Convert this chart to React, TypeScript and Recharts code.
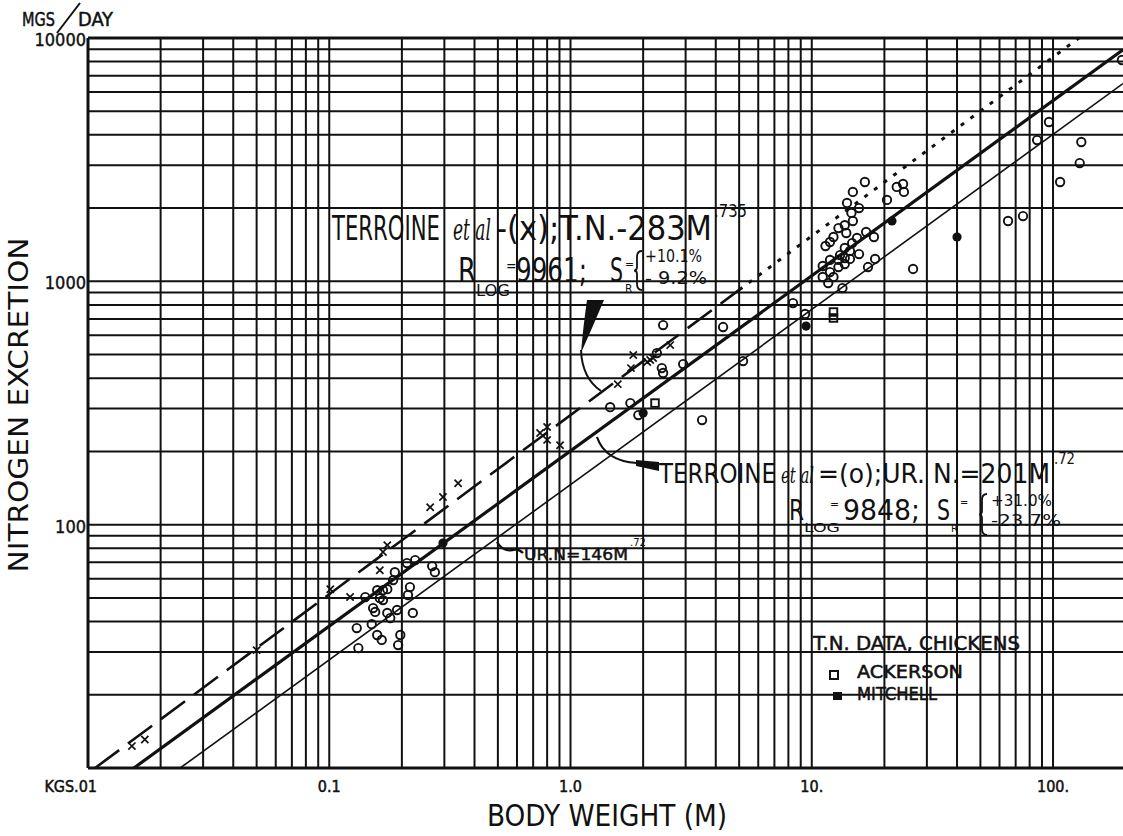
import React from 'react';
import { ScatterChart, Scatter, XAxis, YAxis, ReferenceLine } from 'recharts';

const FONT = '"DejaVu Sans Condensed", "DejaVu Sans", sans-serif';
const INK = '#111';

const xTicks = [0.01, 0.1, 1, 10, 100];
const xTickLabels = ['KGS.01', '0.1', '1.0', '10.', '100.'];
const yTicks = [10, 100, 1000, 10000];
const yTickLabels = ['', '100', '1000', '10000'];

// log paper rulings
const gridX = [0.02, 0.03, 0.04, 0.05, 0.06, 0.07, 0.08, 0.09, 0.1, 0.2, 0.3, 0.4, 0.5, 0.6, 0.7, 0.8, 0.9, 1, 2, 3, 4, 5, 6, 7, 8, 9, 10, 20, 30, 40, 50, 60, 70, 80, 90, 100];
const gridY = [20, 30, 40, 50, 60, 70, 80, 90, 100, 200, 300, 400, 500, 600, 700, 800, 900, 1000, 2000, 3000, 4000, 5000, 6000, 7000, 8000, 9000, 10000];

// Terroine et al. total nitrogen (x)
const terroineTN = [
  { x: 0.0152, y: 12.3 }, { x: 0.0172, y: 13.1 }, { x: 0.05, y: 30.5 }, { x: 0.101, y: 54.3 },
  { x: 0.122, y: 50.4 }, { x: 0.162, y: 65.0 }, { x: 0.167, y: 77.2 }, { x: 0.174, y: 82.4 },
  { x: 0.262, y: 118 }, { x: 0.296, y: 130 }, { x: 0.342, y: 148 }, { x: 0.748, y: 238 },
  { x: 0.8, y: 252 }, { x: 0.8, y: 223 }, { x: 0.905, y: 212 }, { x: 1.57, y: 378 },
  { x: 1.78, y: 440 }, { x: 1.82, y: 498 }, { x: 2.08, y: 466 }, { x: 2.14, y: 475 },
  { x: 2.2, y: 484 }, { x: 2.59, y: 547 },
];

// Terroine et al. urinary nitrogen (o)
const terroineUR = [
  { x: 0.21, y: 69.5 }, { x: 0.227, y: 71.5 }, { x: 0.267, y: 67.6 }, { x: 0.274, y: 63.8 },
  { x: 0.187, y: 63.8 }, { x: 0.184, y: 59.2 }, { x: 0.158, y: 53.8 }, { x: 0.167, y: 53.8 },
  { x: 0.174, y: 54.3 }, { x: 0.141, y: 50.4 }, { x: 0.162, y: 49.9 }, { x: 0.167, y: 49.0 },
  { x: 0.216, y: 55.4 }, { x: 0.212, y: 51.4 }, { x: 0.152, y: 45.4 }, { x: 0.155, y: 43.8 },
  { x: 0.174, y: 43.4 }, { x: 0.179, y: 41.3 }, { x: 0.191, y: 44.6 }, { x: 0.222, y: 43.4 },
  { x: 0.13, y: 37.6 }, { x: 0.15, y: 39.0 }, { x: 0.158, y: 35.2 }, { x: 0.165, y: 33.6 },
  { x: 0.197, y: 35.2 }, { x: 0.193, y: 32.0 }, { x: 0.132, y: 31.1 },
  { x: 2.42, y: 661 }, { x: 2.28, y: 507 }, { x: 2.39, y: 440 }, { x: 2.42, y: 420 },
  { x: 2.93, y: 457 }, { x: 4.29, y: 649 }, { x: 1.46, y: 304 }, { x: 1.77, y: 316 },
  { x: 1.91, y: 282 }, { x: 3.51, y: 269 }, { x: 5.19, y: 470 }, { x: 8.36, y: 814 },
  { x: 9.38, y: 734 },
  { x: 16.6, y: 2560 }, { x: 14.8, y: 2330 }, { x: 14.0, y: 2100 }, { x: 15.7, y: 2000 },
  { x: 14.6, y: 1910 }, { x: 14.8, y: 1770 }, { x: 13.7, y: 1700 }, { x: 12.9, y: 1656 },
  { x: 13.9, y: 1580 }, { x: 12.3, y: 1521 }, { x: 11.9, y: 1451 }, { x: 11.4, y: 1397 },
  { x: 16.8, y: 1595 }, { x: 18.1, y: 1521 }, { x: 15.4, y: 1507 }, { x: 14.7, y: 1436 },
  { x: 13.7, y: 1371 }, { x: 14.4, y: 1333 }, { x: 13.1, y: 1282 }, { x: 15.7, y: 1294 },
  { x: 13.7, y: 1247 }, { x: 12.9, y: 1224 }, { x: 11.9, y: 1224 }, { x: 14.4, y: 1236 },
  { x: 11.1, y: 1156 }, { x: 12.9, y: 1145 }, { x: 13.7, y: 1178 }, { x: 11.9, y: 1092 },
  { x: 11.1, y: 1042 }, { x: 12.3, y: 1042 }, { x: 11.7, y: 984 }, { x: 13.4, y: 938 },
  { x: 17.1, y: 1145 }, { x: 18.3, y: 1236 }, { x: 20.5, y: 2160 }, { x: 22.5, y: 2443 },
  { x: 23.9, y: 2512 }, { x: 24.1, y: 2330 }, { x: 26.3, y: 1124 }, { x: 65.1, y: 1770 },
  { x: 75.1, y: 1855 }, { x: 107, y: 2560 }, { x: 129, y: 3063 }, { x: 131, y: 3738 },
  { x: 96.2, y: 4517 }, { x: 85.9, y: 3808 }, { x: 193, y: 8120 },
];

// chickens, total nitrogen
const ackerson = [{ x: 2.24, y: 316 }, { x: 12.3, y: 748 }, { x: 12.3, y: 707 }];
const mitchell = [{ x: 0.296, y: 84 }, { x: 2.0, y: 288 }, { x: 9.47, y: 655 }, { x: 21.5, y: 1770 }, { x: 40.0, y: 1521 }];

// fitted lines, end points
const lineTNdashed = [{ x: 0.0107, y: 10 }, { x: 5, y: 922 }];
const lineTNdotted = [{ x: 5, y: 922 }, { x: 128, y: 10000 }];
const lineUR201 = [{ x: 0.0155, y: 10 }, { x: 195, y: 8950 }];
const lineUR146 = [{ x: 0.0241, y: 10 }, { x: 195, y: 6500 }];

const noDot = () => <g />;
const OpenCircle = (p: any) => <circle cx={p.cx} cy={p.cy} r={4.2} fill="none" stroke={INK} strokeWidth={1.9} />;
const FilledDot = (p: any) => <circle cx={p.cx} cy={p.cy} r={4.6} fill={INK} />;
const OpenSquare = (p: any) => <rect x={p.cx - 3.8} y={p.cy - 3.8} width={7.6} height={7.6} fill="none" stroke={INK} strokeWidth={1.9} />;
const Cross = (p: any) => {
  const s = 3.6;
  return <path d={`M${p.cx - s},${p.cy - s}L${p.cx + s},${p.cy + s}M${p.cx - s},${p.cy + s}L${p.cx + s},${p.cy - s}`} stroke={INK} strokeWidth={1.7} />;
};

const XTick = (p: any) => {
  const i = xTicks.indexOf(p.payload.value);
  const first = i === 0;
  return (
    <text x={first ? p.x + 9 : p.x} y={p.y + 16} textAnchor={first ? 'end' : 'middle'} fontFamily={FONT} fontSize={16} fill={INK} stroke={INK} strokeWidth={0.5}>
      {xTickLabels[i]}
    </text>
  );
};

const YTick = (p: any) => {
  const i = yTicks.indexOf(p.payload.value);
  return (
    <text x={p.x + 6} y={p.y + 8} textAnchor="end" fontFamily={FONT} fontSize={18} fill={INK} stroke={INK} strokeWidth={0.4}>
      {yTickLabels[i]}
    </text>
  );
};

const Brace = ({ x, y1, y2 }: { x: number; y1: number; y2: number }) => {
  const m = (y1 + y2) / 2;
  return (
    <path
      d={`M${x + 8},${y1} Q${x + 3},${y1} ${x + 3},${y1 + 6} L${x + 3},${m - 4} Q${x + 3},${m} ${x},${m} Q${x + 3},${m} ${x + 3},${m + 4} L${x + 3},${y2 - 6} Q${x + 3},${y2} ${x + 8},${y2}`}
      fill="none"
      stroke={INK}
      strokeWidth={1.8}
    />
  );
};

const Notes = () => (
  <svg width={1123} height={836} style={{ position: 'absolute', left: 0, top: 0, pointerEvents: 'none' }} fontFamily={FONT} fill={INK}>
    {/* unit */}
    <g stroke={INK} strokeWidth={0.5}>
      <text x={22} y={26} fontSize={20} textLength={33} lengthAdjust="spacingAndGlyphs">MGS</text>
      <text x={78} y={26} fontSize={20} textLength={35} lengthAdjust="spacingAndGlyphs">DAY</text>
    </g>
    <line x1={57} y1={33} x2={80} y2={3} stroke={INK} strokeWidth={2} />

    {/* axis titles */}
    <text transform="rotate(-90)" x={-405} y={28} textAnchor="middle" fontSize={27} textLength={335} lengthAdjust="spacingAndGlyphs">NITROGEN EXCRETION</text>
    <text x={487} y={826} fontSize={30} textLength={240} lengthAdjust="spacingAndGlyphs">BODY  WEIGHT (M)</text>

    {/* total nitrogen fit */}
    <text x={332} y={240} fontSize={34} textLength={108} lengthAdjust="spacingAndGlyphs">TERROINE</text>
    <text x={453} y={240} fontSize={30} fontStyle="italic" fontFamily="DejaVu Serif, serif" textLength={38} lengthAdjust="spacingAndGlyphs">et al</text>
    <text x={496} y={240} fontSize={34} textLength={216} lengthAdjust="spacingAndGlyphs">-(x);T.N.-283M</text>
    <text x={714} y={217} fontSize={17} textLength={33} lengthAdjust="spacingAndGlyphs">.735</text>
    <text x={458} y={282} fontSize={34} textLength={18} lengthAdjust="spacingAndGlyphs">R</text>
    <text x={476} y={296} fontSize={16} textLength={34} lengthAdjust="spacingAndGlyphs">LOG</text>
    <text x={506} y={271} fontSize={14}>=</text>
    <text x={516} y={282} fontSize={34} textLength={71} lengthAdjust="spacingAndGlyphs">9961;</text>
    <text x={610} y={282} fontSize={34} textLength={13} lengthAdjust="spacingAndGlyphs">S</text>
    <text x={625} y={293} fontSize={12}>R</text>
    <text x={625} y={268} fontSize={12}>=</text>
    <Brace x={634} y1={251} y2={290} />
    <text x={645} y={262} fontSize={17} textLength={57} lengthAdjust="spacingAndGlyphs">+10.1%</text>
    <text x={645} y={284} fontSize={17} textLength={62} lengthAdjust="spacingAndGlyphs">- 9.2%</text>
    <path d="M587,300 L604,300 Q593,326 581,353 Q583,328 587,300 Z" />
    <path d="M581,350 Q582,378 601,391" fill="none" stroke={INK} strokeWidth={2} />

    {/* urinary nitrogen fit */}
    <text x={659} y={483} fontSize={26} textLength={117} lengthAdjust="spacingAndGlyphs">TERROINE</text>
    <text x={781} y={483} fontSize={23} fontStyle="italic" fontFamily="DejaVu Serif, serif" textLength={33} lengthAdjust="spacingAndGlyphs">et al</text>
    <text x={818} y={483} fontSize={26} textLength={232} lengthAdjust="spacingAndGlyphs">=(o);UR. N.=201M</text>
    <text x={1054} y={464} fontSize={15} textLength={21} lengthAdjust="spacingAndGlyphs">.72</text>
    <text x={789} y={520} fontSize={28} textLength={15} lengthAdjust="spacingAndGlyphs">R</text>
    <text x={804} y={532} fontSize={13} textLength={36} lengthAdjust="spacingAndGlyphs">LOG</text>
    <text x={830} y={508} fontSize={12}>=</text>
    <text x={843} y={520} fontSize={28} textLength={77} lengthAdjust="spacingAndGlyphs">9848;</text>
    <text x={937} y={520} fontSize={28} textLength={13} lengthAdjust="spacingAndGlyphs">S</text>
    <text x={951} y={532} fontSize={11}>R</text>
    <text x={960} y={506} fontSize={11}>=</text>
    <Brace x={979} y1={494} y2={535} />
    <text x={991} y={506} fontSize={15} textLength={61} lengthAdjust="spacingAndGlyphs">+31.0%</text>
    <text x={991} y={526} fontSize={15} textLength={70} lengthAdjust="spacingAndGlyphs">-23.7%</text>
    <path d="M597,437 Q605,461 637,463" fill="none" stroke={INK} strokeWidth={2.2} />
    <path d="M636,460 L659,462 L659,471 L636,466 Z" />

    {/* lower line label */}
    <path d="M497,542 Q503,552 512,550 Q518,548 523,553" fill="none" stroke={INK} strokeWidth={2.4} />
    <text x={524} y={560} fontSize={15} textLength={104} lengthAdjust="spacingAndGlyphs" stroke={INK} strokeWidth={0.4}>UR.N=146M</text>
    <text x={630} y={546} fontSize={11} textLength={16} lengthAdjust="spacingAndGlyphs">.72</text>

    {/* legend */}
    <g stroke={INK} strokeWidth={0.5}>
      <text x={813} y={650} fontSize={20} textLength={207} lengthAdjust="spacingAndGlyphs">T.N. DATA, CHICKENS</text>
      <text x={857} y={678} fontSize={18} textLength={106} lengthAdjust="spacingAndGlyphs">ACKERSON</text>
      <text x={857} y={700} fontSize={18} textLength={80} lengthAdjust="spacingAndGlyphs">MITCHELL</text>
    </g>
    <rect x={830} y={671} width={8} height={8} fill="none" stroke={INK} strokeWidth={2} />
    <rect x={833} y={692} width={9} height={8} />
  </svg>
);

export default function App() {
  return (
    <div style={{ position: 'absolute', left: 0, top: 0, width: 1123, height: 836, background: '#fff' }}>
      <ScatterChart width={1123} height={836} margin={{ top: 38, right: 0, bottom: 0, left: 0 }}>
        <XAxis
          type="number"
          dataKey="x"
          scale="log"
          domain={[0.01, 195]}
          allowDataOverflow
          ticks={xTicks}
          tick={<XTick />}
          tickLine={false}
          axisLine={{ stroke: INK, strokeWidth: 3 }}
          height={68}
          interval={0}
        />
        <YAxis
          type="number"
          dataKey="y"
          scale="log"
          domain={[10, 10000]}
          allowDataOverflow
          ticks={yTicks}
          tick={<YTick />}
          tickLine={false}
          axisLine={{ stroke: INK, strokeWidth: 3 }}
          width={88}
          interval={0}
        />
        {gridX.map((v) => (
          <ReferenceLine key={'gx' + v} x={v} stroke={INK} strokeWidth={2} />
        ))}
        {gridY.map((v) => (
          <ReferenceLine key={'gy' + v} y={v} stroke={INK} strokeWidth={v === 10000 ? 3 : 2} />
        ))}
        <Scatter data={lineTNdashed} line={{ stroke: INK, strokeWidth: 2.6, strokeDasharray: '30 11' }} lineType="joint" shape={noDot} isAnimationActive={false} />
        <Scatter data={lineTNdotted} line={{ stroke: INK, strokeWidth: 3, strokeDasharray: '4 8' }} lineType="joint" shape={noDot} isAnimationActive={false} />
        <Scatter data={lineUR201} line={{ stroke: INK, strokeWidth: 3.2 }} lineType="joint" shape={noDot} isAnimationActive={false} />
        <Scatter data={lineUR146} line={{ stroke: INK, strokeWidth: 1.6 }} lineType="joint" shape={noDot} isAnimationActive={false} />
        <Scatter data={terroineTN} shape={Cross} isAnimationActive={false} />
        <Scatter data={terroineUR} shape={OpenCircle} isAnimationActive={false} />
        <Scatter data={ackerson} shape={OpenSquare} isAnimationActive={false} />
        <Scatter data={mitchell} shape={FilledDot} isAnimationActive={false} />
      </ScatterChart>
      <Notes />
    </div>
  );
}
